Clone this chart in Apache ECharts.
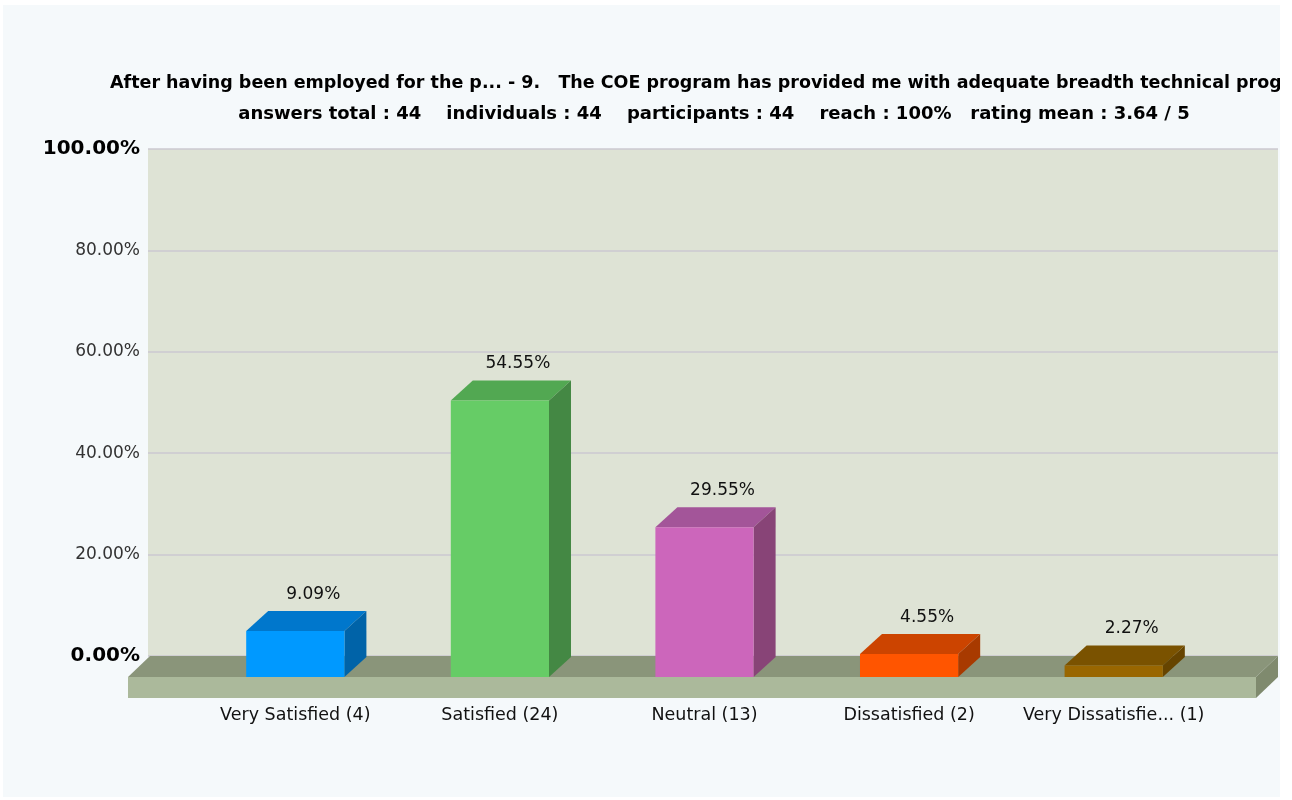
<!DOCTYPE html>
<html>
<head>
<meta charset="utf-8">
<script src="https://cdn.jsdelivr.net/npm/echarts@6/dist/echarts.min.js"></script>
<style>
html,body{margin:0;padding:0;background:#ffffff;}
#chart{position:absolute;left:3px;top:5px;width:1277px;height:792px;background:#f5f9fb;}
</style>
</head>
<body>
<div id="chart"></div>
<script>
const titleText = "After having been employed for the p... - 9.   The COE program has provided me with adequate breadth technical programs";
const subtitleText = "answers total : 44    individuals : 44    participants : 44    reach : 100%   rating mean : 3.64 / 5";
const categories = ["Very Satisfied (4)", "Satisfied (24)", "Neutral (13)", "Dissatisfied (2)", "Very Dissatisfie... (1)"];
const percents = [9.09, 54.55, 29.55, 4.55, 2.27];
const yTicks = [0, 20, 40, 60, 80, 100];

const frontColors = ["#0099ff", "#66cc66", "#cc66bb", "#ff5500", "#996600"];
const topColors   = ["#0077cc", "#52a852", "#a35599", "#cc4400", "#7a5200"];
const sideColors  = ["#0063a8", "#448844", "#884477", "#a83a00", "#664400"];

const DEPTH_X = 22, DEPTH_Y = 21;
const FONT = '"DejaVu Sans", Verdana, sans-serif';

const chart = echarts.init(document.getElementById('chart'));

const option = {
  animation: false,
  backgroundColor: '#f5f9fb',
  graphic: [
    {type:'text', x:107, y:78, style:{text:titleText, font:'bold 17.5px ' + FONT, fill:'#000', align:'left', verticalAlign:'middle'}},
    {type:'text', x:711, y:109, style:{text:subtitleText, font:'bold 18px ' + FONT, fill:'#000', align:'center', verticalAlign:'middle'}}
  ],
  grid: [
    {left:145, right:2, top:144, bottom:141, show:true, backgroundColor:'#dee3d5', borderWidth:0},
    {left:190, right:64, top:165, bottom:120}
  ],
  xAxis: [
    {type:'value', gridIndex:0, min:0, max:1, show:false},
    {type:'category', gridIndex:1, data:categories,
      axisLine:{show:false}, axisTick:{show:false},
      axisLabel:{interval:0, hideOverlap:false, margin:29, color:'#111', fontSize:17.5, fontFamily:FONT}}
  ],
  yAxis: [
    {type:'value', gridIndex:0, min:0, max:100, interval:20,
      axisLine:{show:false}, axisTick:{show:false},
      splitLine:{show:true, lineStyle:{color:'#cbc8d0', width:1.5}},
      axisLabel:{margin:8, formatter:function(v){
        const s = v.toFixed(2) + '%';
        return (v === 0 || v === 100) ? '{b|' + s + '}' : '{n|' + s + '}';
      }, rich:{
        b:{fontWeight:'bold', fontSize:20, color:'#000', fontFamily:FONT},
        n:{fontSize:17, color:'#333', fontFamily:FONT}
      }}},
    {type:'value', gridIndex:1, min:0, max:100, show:false}
  ],
  series: [
    {
      type:'custom', xAxisIndex:0, yAxisIndex:0, data:[[0]], silent:true, z:2,
      renderItem:function(params, api){
        const a = api.coord([0,0]);
        const b = api.coord([1,0]);
        const L = a[0] + 2, R = b[0], Y = a[1];
        return {type:'group', children:[
          {type:'polygon', shape:{points:[[L,Y],[R,Y],[R-DEPTH_X,Y+DEPTH_Y],[L-DEPTH_X,Y+DEPTH_Y]]}, style:{fill:'#8a957a'}},
          {type:'rect', shape:{x:L-DEPTH_X, y:Y+DEPTH_Y, width:R-L, height:DEPTH_Y}, style:{fill:'#abb99b'}},
          {type:'polygon', shape:{points:[[R,Y],[R,Y+DEPTH_Y],[R-DEPTH_X,Y+2*DEPTH_Y],[R-DEPTH_X,Y+DEPTH_Y]]}, style:{fill:'#7f8a6e'}}
        ]};
      }
    },
    {
      type:'custom', xAxisIndex:1, yAxisIndex:1, z:5, silent:true,
      data: percents.map((v,i)=>[i, v]),
      renderItem:function(params, api){
        const i = api.value(0);
        const v = api.value(1);
        const base = api.coord([i, 0]);
        const top = api.coord([i, v]);
        const w = api.size([1,0])[0] * 0.48;
        const x0 = base[0] - w/2, x1 = base[0] + w/2;
        const yb = base[1], yt = top[1];
        return {type:'group', children:[
          {type:'polygon', shape:{points:[[x0,yt],[x1,yt],[x1+DEPTH_X,yt-DEPTH_Y+1],[x0+DEPTH_X,yt-DEPTH_Y+1]]}, style:{fill:topColors[i]}},
          {type:'polygon', shape:{points:[[x1,yt],[x1+DEPTH_X,yt-DEPTH_Y+1],[x1+DEPTH_X,yb-DEPTH_Y+1],[x1,yb]]}, style:{fill:sideColors[i]}},
          {type:'rect', shape:{x:x0, y:yt, width:w, height:yb-yt}, style:{fill:frontColors[i]}},
          {type:'text', x:base[0] + 18, y:yt - DEPTH_Y - 7, style:{text:v.toFixed(2) + '%', font:'17px ' + FONT, fill:'#111', align:'center', verticalAlign:'bottom'}}
        ]};
      }
    }
  ]
};
chart.setOption(option);
</script>
</body>
</html>
